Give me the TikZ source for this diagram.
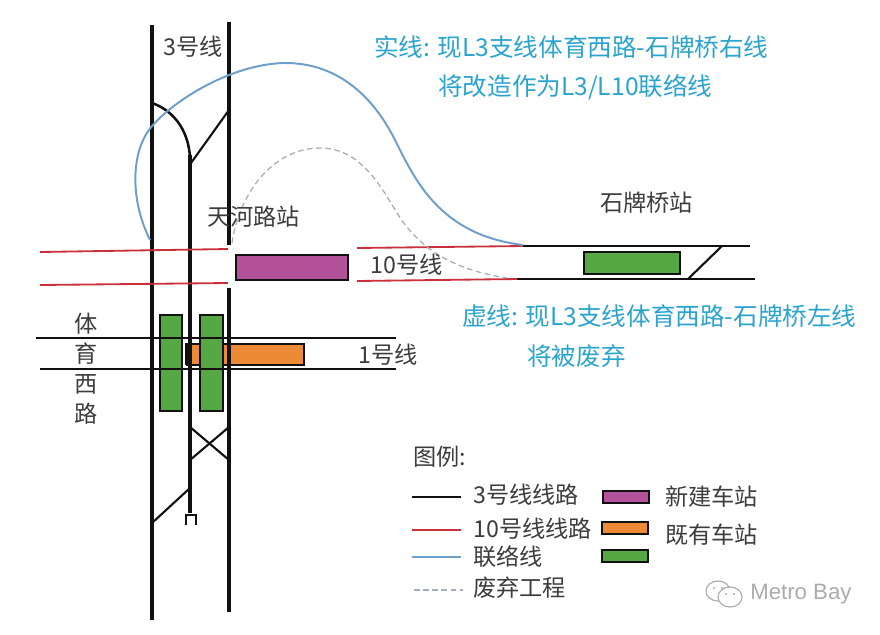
\documentclass[tikz,border=0pt]{standalone}
\usepackage{fontspec}
\setmainfont{Noto Sans CJK SC}
\newfontfamily\latinfont{Liberation Sans}
\usetikzlibrary{calc,positioning}
\definecolor{ink}{HTML}{111111}
\definecolor{labelgray}{HTML}{3C3C3C}
\definecolor{noteblue}{HTML}{2BA3CF}
\definecolor{redline}{HTML}{C9303C}
\definecolor{linkblue}{HTML}{6E9FCB}
\definecolor{droppedgray}{HTML}{A4AEBB}
\definecolor{newfill}{HTML}{B3529B}
\definecolor{oldfill}{HTML}{EC8A35}
\definecolor{greenfill}{HTML}{56A845}
\definecolor{markgray}{HTML}{ABABAB}

\begin{document}
\begin{tikzpicture}[
  x=0.025cm,
  y=-0.025cm,
  track/.style={line width=2.7pt, color=ink},
  branch/.style={line width=1.5pt, color=ink},
  crossline/.style={line width=1.3pt, color=ink},
  tenline/.style={line width=1.3pt, color=redline},
  linkline/.style={line width=1.4pt, color=linkblue},
  dropped/.style={line width=.9pt, color=droppedgray, dash pattern=on 4pt off 2.5pt},
  station/.style={draw=ink, line width=1.2pt, inner sep=0pt},
  newstation/.style={station, fill=newfill},
  oldstation/.style={station, fill=oldfill},
  greenstation/.style={station, fill=greenfill},
  note/.style={font=\fontsize{17.5}{21}\selectfont, text=noteblue, anchor=west, inner sep=0pt},
  label/.style={font=\fontsize{16.5}{20}\selectfont, text=labelgray, anchor=west, inner sep=0pt},
  swatch/.style={draw=ink, line width=1.5pt, minimum width=1.15cm, minimum height=.28cm, inner sep=0pt},
]

\useasboundingbox (0,0) rectangle (880,634);

% stations sit under the tracks
\node[oldstation, minimum width=2.925cm, minimum height=.52cm, anchor=north west] (tiyuold) at (186,343) {};
\node[greenstation, minimum width=.55cm, minimum height=2.4cm, anchor=north west] (tiyuleft) at (159,314) {};
\node[greenstation, minimum width=.575cm, minimum height=2.4cm, anchor=north west] (tiyuright) at (199,314) {};
\node[newstation, minimum width=2.8cm, minimum height=.62cm, anchor=north west] (tianhe) at (235,254) {};
\node[greenstation, minimum width=2.4cm, minimum height=.55cm, anchor=north west] (shipai) at (583,251) {};

% line 3
\draw[track] (152,25) -- (152,620);
\draw[track] (229,22) -- (229,245);
\draw[track] (229,288) -- (229,612);
\draw[track, line width=2.4pt] (190,155) -- (190,513);
\draw[branch, line width=1.8pt] (152,103) .. controls (172,110) and (188,128) .. (190,157);
\draw[branch] (229,110) -- (191,163);
\draw[branch] (190,427) -- (229,460);
\draw[branch] (190,460) -- (229,427);
\draw[branch] (190,488) -- (152,523);
\draw[branch, line width=1.1pt] (186,525) -- (186,515) -- (196,515) -- (196,525);

% line 1
\draw[crossline] (36,338) -- (396,338);
\draw[crossline] (40,369) -- (396,369);
\draw[line width=2.2pt, color=ink] (187,343) -- (187,365);

% line 10 and the Shipaiqiao end
\draw[tenline] (40,252) -- (228,249);
\draw[tenline] (40,285) -- (228,283);
\draw[tenline] (357,248) -- (523,246);
\draw[tenline] (357,281) -- (517,279);
\draw[crossline] (523,246) -- (750,246);
\draw[crossline] (517,279) -- (755,279);
\draw[branch] (688,279) -- (722,246);

% link line and the dropped line
\draw[linkline] (150,240) .. controls (130,200) and (130,150) .. (153,125)
  .. controls (175,100) and (230,65) .. (283,63)
  .. controls (340,62) and (375,100) .. (395,140)
  .. controls (415,180) and (440,235) .. (523,245);
\draw[dropped] (232,243) .. controls (240,190) and (275,148) .. (320,148)
  .. controls (360,148) and (380,185) .. (397,213)
  .. controls (420,250) and (455,270) .. (507,278);

% notes
\node[note] (solidnote) at (374,47) {实线: 现L3支线体育西路-石牌桥右线};
\node[note] (solidnote2) at (438,87) {将改造作为L3/L10联络线};
\node[note] (dashnote) at (462,316) {虚线: 现L3支线体育西路-石牌桥左线};
\node[note] (dashnote2) at (527,356) {将被废弃};

% labels
\node[label] (linethree) at (163,47) {3号线};
\node[label] (tianhename) at (207,217) {天河路站};
\node[label] (shipainame) at (600,203) {石牌桥站};
\node[label] (lineten) at (370,265) {10号线};
\node[label] (lineone) at (358,355) {1号线};
\node[label, anchor=center, align=center, font=\fontsize{16.5}{21.3}\selectfont] (tiyuname) at (86,369) {体\\育\\西\\路};

% legend
\node[label] (legendtitle) at (413,457) {图例:};
\coordinate (keyblack) at (412,497);
\coordinate (keyred) at (412,530);
\coordinate (keyblue) at (412,557);
\coordinate (keydash) at (414,590);
\draw[line width=1.3pt, color=ink] (keyblack) -- ++(49,0);
\draw[tenline] (keyred) -- ++(49,0);
\draw[linkline] (keyblue) -- ++(49,0);
\draw[dropped] (keydash) -- ++(49,0);
\node[label] (keyblacktext) at (473,495) {3号线线路};
\node[label] (keyredtext) at (473,529) {10号线线路};
\node[label] (keybluetext) at (473,557) {联络线};
\node[label] (keydashtext) at (473,588) {废弃工程};
\node[swatch, fill=newfill] (keynew) at (626,497) {};
\node[swatch, fill=oldfill] (keyold) at (625,528) {};
\node[swatch, fill=greenfill] (keygreen) at (625,556) {};
\node[label] (keynewtext) at (665,497) {新建车站};
\node[label] (keyoldtext) at (665,535) {既有车站};

% watermark
\draw[markgray, line width=.8pt, fill=white] (718,591) ellipse (12 and 10);
\draw[markgray, line width=.8pt, fill=white] (730,597) ellipse (12 and 10);
\fill[markgray] (714,588) circle (1.2) (722,588) circle (1.2) (726,594) circle (1.2) (734,594) circle (1.2);
\node[anchor=west, inner sep=0pt, text=markgray, font=\latinfont\fontsize{15.8}{18}\selectfont] (markname) at (750,594) {Metro Bay};

\end{tikzpicture}
\end{document}
